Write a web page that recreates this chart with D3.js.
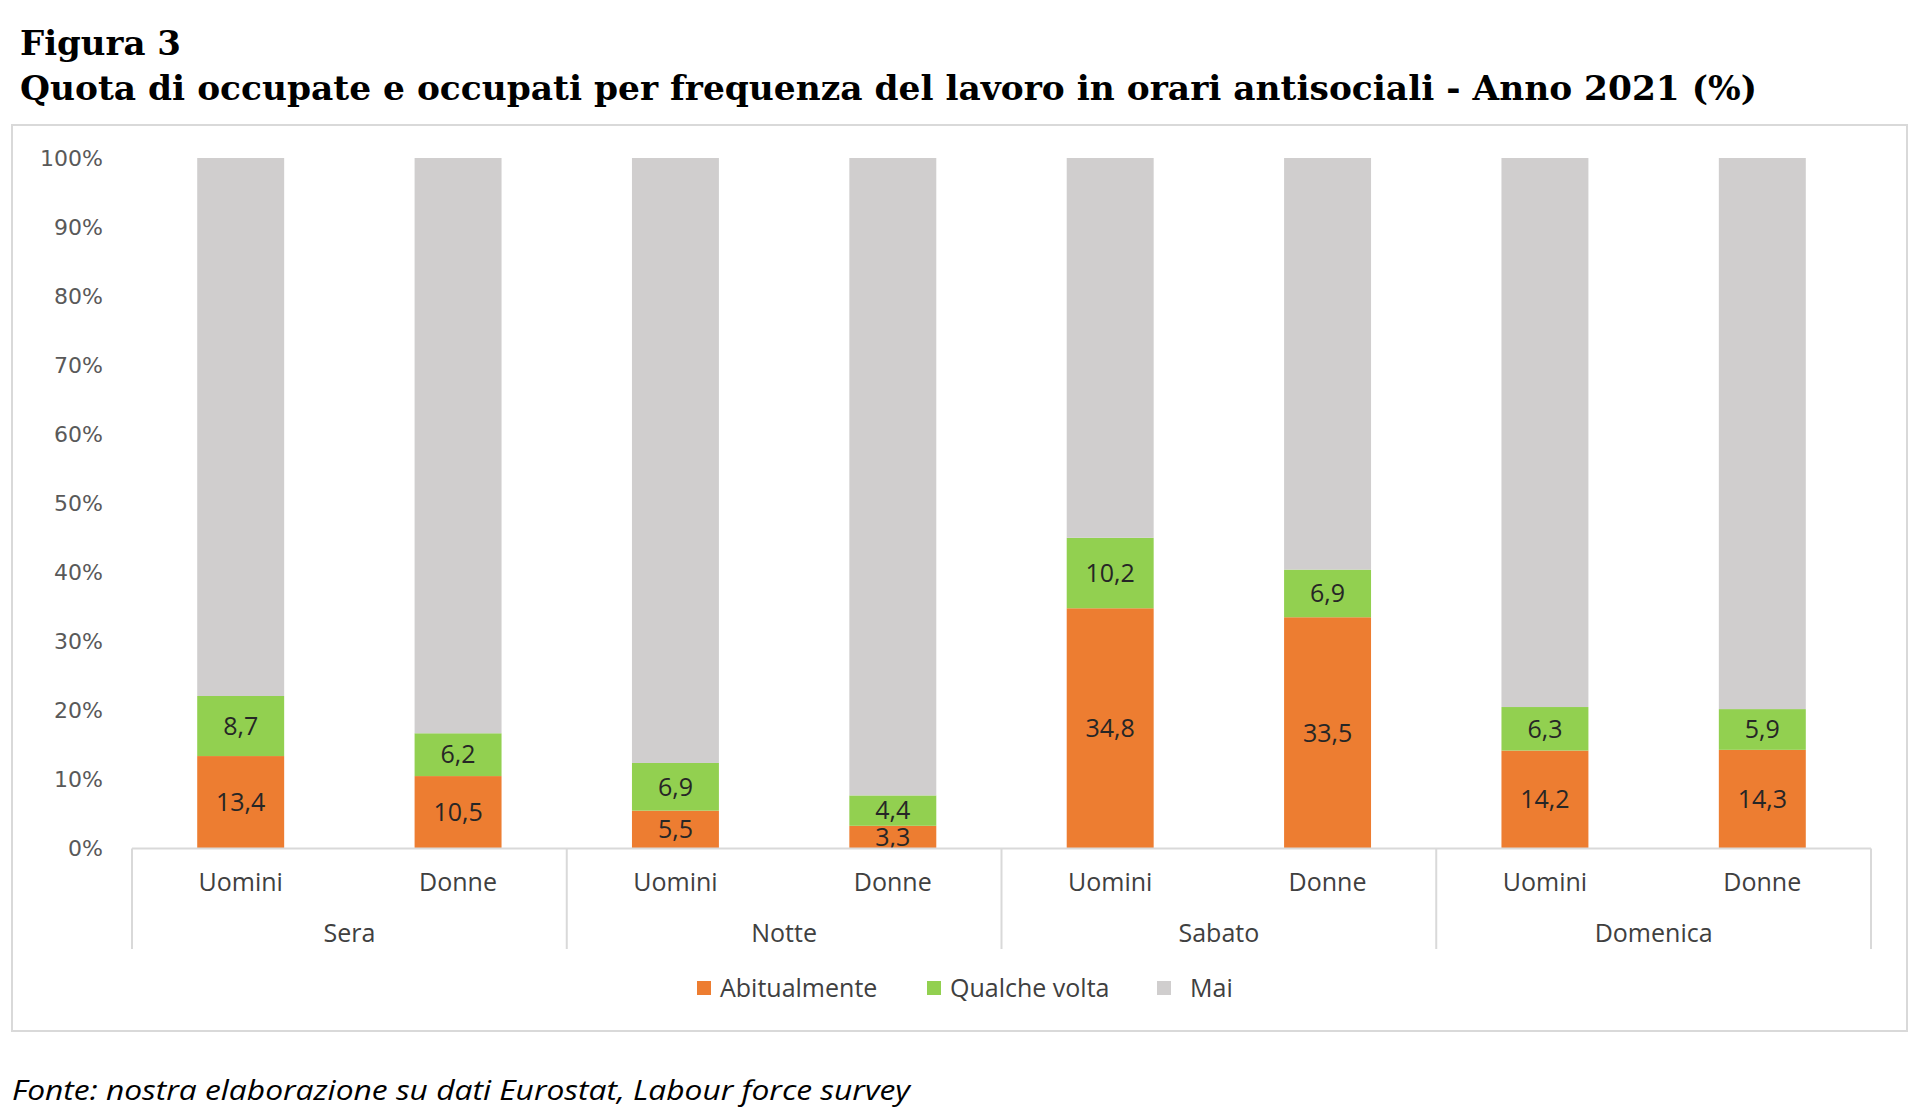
<!DOCTYPE html>
<html>
<head>
<meta charset="utf-8">
<script src="https://cdn.jsdelivr.net/npm/d3@7"></script>
<style>
  html, body { margin: 0; padding: 0; background: #fff; }
  svg { display: block; }
</style>
</head>
<body>
<svg id="chart" width="1920" height="1119"></svg>
<script>
// ---- data ----
const groups = ["Sera", "Notte", "Sabato", "Domenica"];
const sexes = ["Uomini", "Donne"];
const seriesNames = ["Abitualmente", "Qualche volta", "Mai"];
const abitualmente = [13.4, 10.5, 5.5, 3.3, 34.8, 33.5, 14.2, 14.3];
const qualcheVolta = [8.7, 6.2, 6.9, 4.4, 10.2, 6.9, 6.3, 5.9];
const yTicks = [0, 10, 20, 30, 40, 50, 60, 70, 80, 90, 100];
const titleLine1 = "Figura 3";
const titleLine2 = "Quota di occupate e occupati per frequenza del lavoro in orari antisociali - Anno 2021 (%)";
const sourceText = "Fonte: nostra elaborazione su dati Eurostat, Labour force survey";

// ---- build table ----
const rows = [];
groups.forEach((g, gi) => sexes.forEach((s, si) => {
  const i = gi * sexes.length + si;
  const a = abitualmente[i], q = qualcheVolta[i];
  rows.push({ key: g + "|" + s, group: g, sex: s,
    "Abitualmente": a, "Qualche volta": q, "Mai": +(100 - a - q).toFixed(1) });
}));

const colors = d3.scaleOrdinal().domain(seriesNames).range(["#ED7D31", "#92D050", "#D0CECE"]);

const svg = d3.select("#chart");
const font = "'Open Sans', 'Liberation Sans', sans-serif";
const tickFont = "'DejaVu Sans', sans-serif";

// titles
svg.append("text").attr("x", 20).attr("y", 55)
  .attr("font-family", "'DejaVu Serif', serif").attr("font-weight", "bold")
  .attr("font-size", 34).attr("fill", "#000")
  .attr("textLength", 161).attr("lengthAdjust", "spacingAndGlyphs")
  .text(titleLine1);
svg.append("text").attr("x", 20).attr("y", 100)
  .attr("font-family", "'DejaVu Serif', serif").attr("font-weight", "bold")
  .attr("font-size", 34).attr("fill", "#000")
  .attr("textLength", 1737).attr("lengthAdjust", "spacingAndGlyphs")
  .text(titleLine2);

// frame
svg.append("rect").attr("x", 12).attr("y", 125).attr("width", 1895).attr("height", 906)
  .attr("fill", "none").attr("stroke", "#d9d9d9").attr("stroke-width", 2);

// scales
const x0 = 132, x1 = 1871, yTop = 158, yBot = 848.6;
const x = d3.scaleBand().domain(rows.map(r => r.key)).range([x0, x1])
  .paddingInner(0.6).paddingOuter(0.3);
const y = d3.scaleLinear().domain([0, 100]).range([yBot, yTop]);

const stack = d3.stack().keys(seriesNames)(rows);

// y axis
const yAxis = d3.axisLeft(y).tickValues(yTicks).tickFormat(d => d + "%").tickSize(0).tickPadding(0);
const yg = svg.append("g").attr("transform", `translate(103,0)`).call(yAxis);
yg.select(".domain").remove();
yg.selectAll("text").attr("font-family", tickFont).attr("font-size", 22).attr("fill", "#595959");

// bars
const layer = svg.append("g").selectAll("g").data(stack).join("g")
  .attr("fill", d => colors(d.key));
layer.selectAll("rect").data(d => d).join("rect")
  .attr("x", d => x(d.data.key))
  .attr("width", x.bandwidth())
  .attr("y", d => y(d[1]))
  .attr("height", d => y(d[0]) - y(d[1]));

// data labels (not for Mai)
stack.filter(s => s.key !== "Mai").forEach(s => {
  svg.append("g").selectAll("text").data(s).join("text")
    .attr("x", d => x(d.data.key) + x.bandwidth() / 2)
    .attr("y", d => (y(d[0]) + y(d[1])) / 2)
    .attr("dy", "0.35em")
    .attr("text-anchor", "middle")
    .attr("font-family", font).attr("font-size", 25).attr("fill", "#262626")
    .text(d => d3.format(".1f")(d[1] - d[0]).replace(".", ","));
});

// x axis line and group separators
const axisG = svg.append("g").attr("stroke", "#d9d9d9").attr("stroke-width", 2);
axisG.append("line").attr("x1", x0).attr("x2", x1).attr("y1", yBot).attr("y2", yBot);
const groupScale = d3.scaleBand().domain(groups).range([x0, x1]);
const bounds = groups.map(g => groupScale(g)).concat([x1]);
axisG.selectAll("line.sep").data(bounds).join("line").attr("class", "sep")
  .attr("x1", d => d).attr("x2", d => d).attr("y1", yBot).attr("y2", 949);

// category labels
svg.append("g").selectAll("text").data(rows).join("text")
  .attr("x", d => x(d.key) + x.bandwidth() / 2)
  .attr("y", 882).attr("dy", "0.35em").attr("text-anchor", "middle")
  .attr("font-family", font).attr("font-size", 25).attr("fill", "#404040")
  .text(d => d.sex);
svg.append("g").selectAll("text").data(groups).join("text")
  .attr("x", d => groupScale(d) + groupScale.bandwidth() / 2)
  .attr("y", 933).attr("dy", "0.35em").attr("text-anchor", "middle")
  .attr("font-family", font).attr("font-size", 25).attr("fill", "#404040")
  .text(d => d);

// legend
const legendX = [697, 927, 1157];
const lg = svg.append("g").selectAll("g").data(seriesNames).join("g")
  .attr("transform", (d, i) => `translate(${legendX[i]},988)`);
lg.append("rect").attr("x", 0).attr("y", -7).attr("width", 14).attr("height", 14)
  .attr("fill", d => colors(d));
lg.append("text").attr("x", d => d === "Mai" ? 33 : 23).attr("dy", "0.35em")
  .attr("font-family", font).attr("font-size", 25).attr("fill", "#404040")
  .text(d => d);

// source
svg.append("text").attr("x", 12).attr("y", 1100)
  .attr("font-family", font).attr("font-style", "italic")
  .attr("font-size", 27).attr("fill", "#000")
  .attr("textLength", 898).attr("lengthAdjust", "spacingAndGlyphs")
  .text(sourceText);
</script>
</body>
</html>
